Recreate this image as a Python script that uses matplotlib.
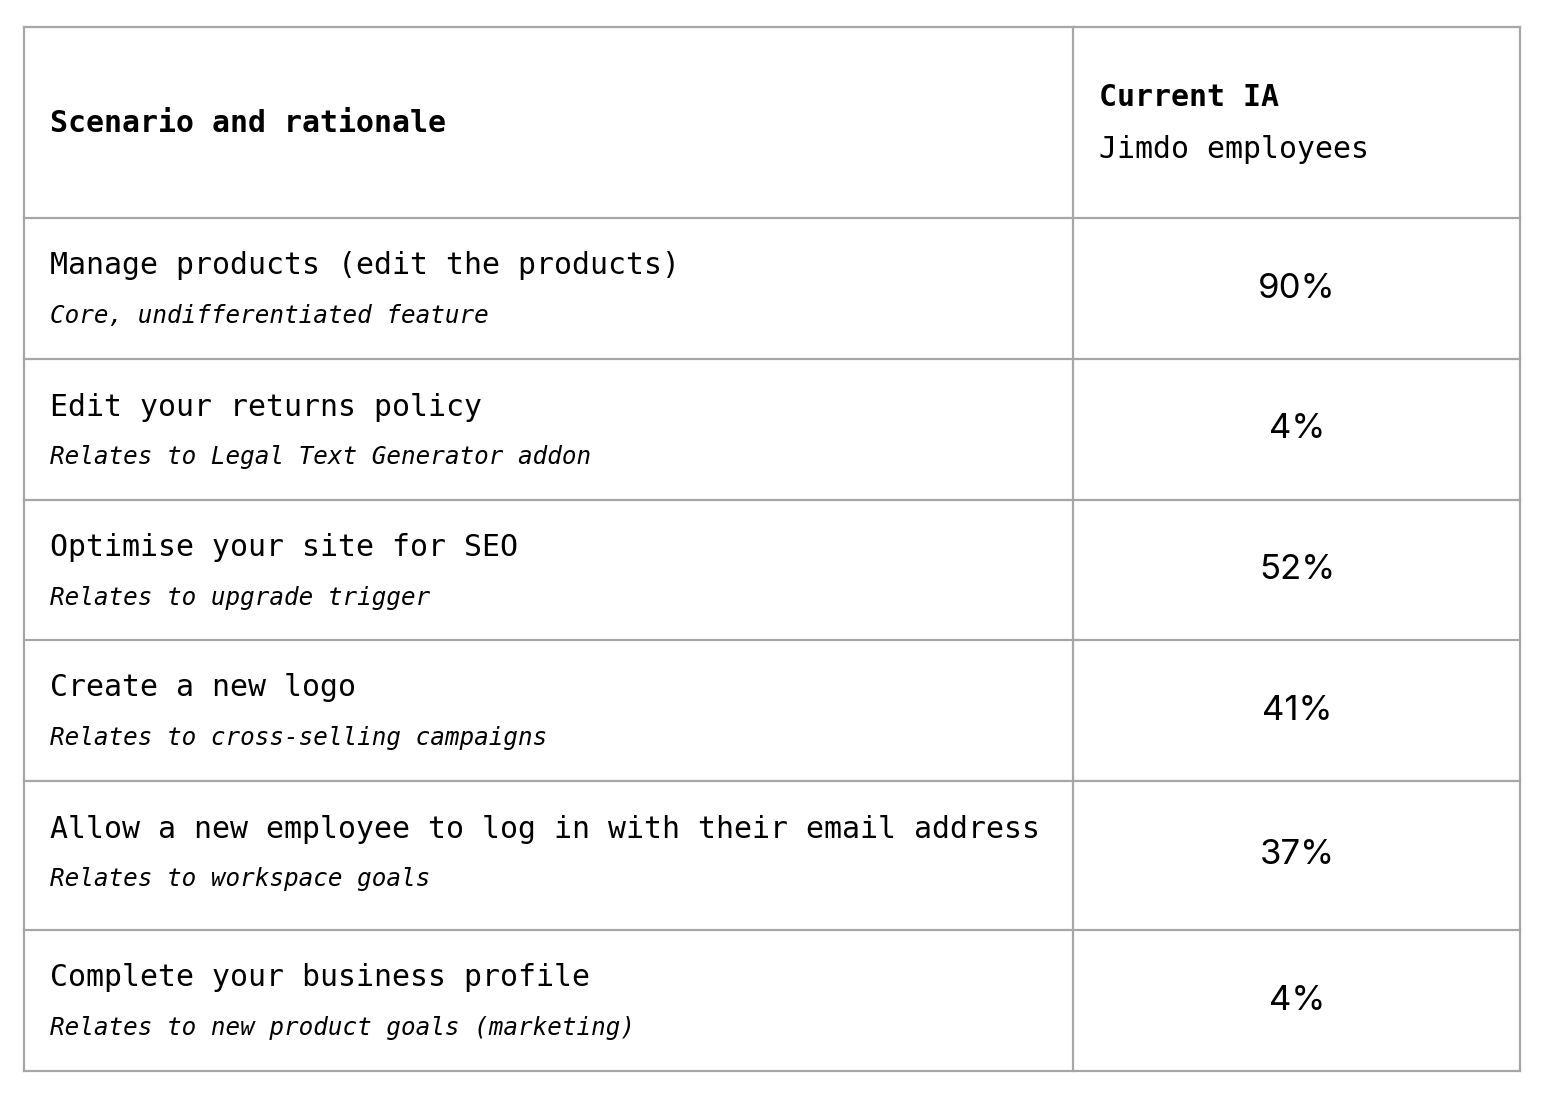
import matplotlib
matplotlib.use("Agg")
import matplotlib.pyplot as plt

scenarios = [
    "Manage products (edit the products)",
    "Edit your returns policy",
    "Optimise your site for SEO",
    "Create a new logo",
    "Allow a new employee to log in with their email address",
    "Complete your business profile",
]
rationales = [
    "Core, undifferentiated feature",
    "Relates to Legal Text Generator addon",
    "Relates to upgrade trigger",
    "Relates to cross-selling campaigns",
    "Relates to workspace goals",
    "Relates to new product goals (marketing)",
]
current_ia = ["90%", "4%", "52%", "41%", "37%", "4%"]

# layout in pixels
W, H = 1546, 1100
left, right, mid = 24, 1520, 1073
row_lines = [27, 218, 359, 500, 640, 781, 930, 1071]
mono = "DejaVu Sans Mono"
line_col = "#a6a6a6"

fig = plt.figure(figsize=(W / 100, H / 100), dpi=100)
ax = fig.add_axes([0, 0, 1, 1])
ax.set_xlim(0, W)
ax.set_ylim(H, 0)
ax.axis("off")

for y in row_lines:
    ax.plot([left, right], [y, y], color=line_col, lw=1.6, solid_capstyle="projecting")
for x in (left, mid, right):
    ax.plot([x, x], [row_lines[0], row_lines[-1]], color=line_col, lw=1.6, solid_capstyle="projecting")

ax.text(50, 124, "Scenario and rationale", family=mono, weight="bold", fontsize=21.5,
        va="center", ha="left")
ax.text(1099, 97, "Current IA", family=mono, weight="bold", fontsize=21.5, va="center")
ax.text(1099, 150, "Jimdo employees", family=mono, fontsize=21.5, va="center")

for i, (s, r, v) in enumerate(zip(scenarios, rationales, current_ia)):
    top, bot = row_lines[i + 1], row_lines[i + 2]
    ax.text(50, top + 48, s, family=mono, fontsize=21.5, va="center")
    ax.text(50, top + 98, r, family=mono, style="italic", fontsize=17.5, va="center")
    ax.text(1297, (top + bot) / 2, v, family="Inter", fontsize=25, va="center", ha="center")

fig.savefig("out.png", dpi=100, facecolor="white")
